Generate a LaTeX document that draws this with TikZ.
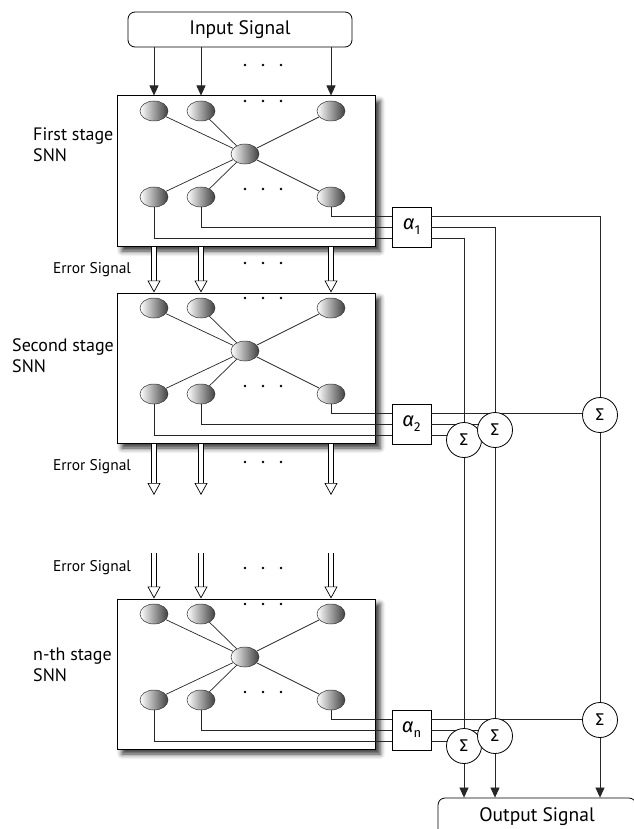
\documentclass[tikz,border=0pt]{standalone}
\usepackage{fontspec}
\setmainfont{PT Sans}
\newfontfamily\grk{Fira Sans}
\usetikzlibrary{arrows.meta,shapes.geometric,shadows.blur}

\tikzset{
  wire/.style={line width=0.7pt, draw=black!85},
  arr/.style={wire, -{Triangle[length=10pt,width=9pt]}},
  hollow/.style={line width=0.7pt, double=white, double distance=4pt,
    -{Triangle[open,fill=white,length=12pt,width=13pt,line width=0.7pt]}},
  signal/.style={draw, line width=0.8pt, rounded corners=7pt, font=\fontsize{19.5}{22}\selectfont},
  stagebox/.style={draw, line width=1pt, fill=white, minimum width=258pt, minimum height=150pt,
    blur shadow={shadow xshift=5pt, shadow yshift=-5pt, shadow blur radius=5pt, shadow opacity=80}},
  neuron/.style={ellipse, draw=black!80, line width=0.5pt, minimum width=28pt, minimum height=20pt,
    inner sep=0pt, left color=white, right color=black!75},
  gain/.style={draw, line width=0.8pt, fill=white, minimum width=39pt, minimum height=40pt,
    inner sep=0pt, font=\grk\fontsize{20}{20}\selectfont},
  sum/.style={circle, draw, line width=0.8pt, fill=white, minimum size=35pt, inner sep=0pt,
    font=\grk\fontsize{17}{17}\selectfont},
  stagelabel/.style={anchor=west, align=left, inner sep=0pt, font=\fontsize{18}{21}\selectfont},
  errlabel/.style={inner sep=0pt, font=\fontsize{15.5}{17}\selectfont}
}

\begin{document}
\begin{tikzpicture}[x=1pt,y=-1pt]
\useasboundingbox (0,0) rectangle (633,829);

% input and output
\node[signal, minimum width=224pt, minimum height=35pt] (input) at (240,29.5) {Input Signal};
\node[signal, minimum width=198pt, minimum height=38pt] (output) at (537,817) {Output Signal};

% the three stages
\foreach \s/\y in {1/96,2/293,n/599} {
  \node[stagebox] (box\s) at (246,\y+75) {};
  \node[neuron] (top\s1) at (154,\y+15) {};
  \node[neuron] (top\s2) at (201,\y+15) {};
  \node[neuron] (top\s3) at (331,\y+15) {};
  \node[neuron] (mid\s) at (245,\y+58) {};
  \node[neuron] (bot\s1) at (154,\y+101) {};
  \node[neuron] (bot\s2) at (201,\y+101) {};
  \node[neuron] (bot\s3) at (331,\y+101) {};
  \foreach \k in {1,2,3} {
    \draw[wire] (top\s\k) -- (mid\s);
    \draw[wire] (bot\s\k) -- (mid\s);
  }
  \foreach \x in {245,263,281} {
    \fill (\x,\y+5) circle (1.3pt);
    \fill (\x,\y+93) circle (1.3pt);
  }
  \node[gain] (gain\s) at (411.5,\y+131) {{\itshape α}\raisebox{-5pt}{\fontsize{13}{13}\selectfont\s}};
  \draw[wire] (bot\s3) |- ([yshift=11pt]gain\s.west);
  \draw[wire] (bot\s2) |- (gain\s.west);
  \draw[wire] (bot\s1) |- ([yshift=-11pt]gain\s.west);
}

% dots between the arrows
\foreach \y in {65,263,462,568}
  \foreach \x in {245,263,281}
    \fill (\x,\y) circle (1.3pt);

% signals between stages
\coordinate (cut) at (0,495);
\coordinate (resume) at (0,553);
\foreach \k in {1,2,3} {
  \draw[arr] (top1\k |- input.south) -- (top1\k |- box1.north);
  \draw[hollow] (top1\k |- box1.south) -- (top2\k |- box2.north);
  \draw[hollow] (top2\k |- box2.south) -- (top2\k |- cut);
  \draw[hollow] (topn\k |- resume) -- (topn\k |- boxn.north);
}

% summing
\coordinate (pA2) at (464,440);
\coordinate (pB2) at (495,430);
\coordinate (pC2) at (600,415);
\coordinate (pAn) at (464,746);
\coordinate (pBn) at (495,736);
\coordinate (pCn) at (600,720);
\draw[wire] ([yshift=11pt]gain1.east) -| (pC2);
\draw[wire] (gain1.east) -| (pB2);
\draw[wire] ([yshift=-11pt]gain1.east) -| (pA2);
\foreach \s in {2,n} {
  \draw[wire] ([yshift=11pt]gain\s.east) -- ([yshift=11pt]gain\s.east -| pC\s);
  \draw[wire] (gain\s.east) -- (gain\s.east -| pB\s);
  \draw[wire] ([yshift=-11pt]gain\s.east) -- ([yshift=-11pt]gain\s.east -| pA\s);
}
\foreach \c in {A,B,C} {
  \draw[wire] (p\c2) -- (p\c n);
  \node[sum] (sum\c2) at (p\c2) {Σ};
  \node[sum] (sum\c n) at (p\c n) {Σ};
  \draw[arr] (sum\c n) -- (sum\c n |- output.north);
}

% labels
\node[stagelabel] (lab1) at (33,145) {First stage\\SNN};
\node[stagelabel] (lab2) at (12,356) {Second stage\\SNN};
\node[stagelabel] (labn) at (33,665) {n-th stage\\SNN};
\node[errlabel] (err1) at (92,270) {Error Signal};
\node[errlabel] (err2) at (92,467) {Error Signal};
\node[errlabel] (err3) at (92,568) {Error Signal};
\end{tikzpicture}
\end{document}
